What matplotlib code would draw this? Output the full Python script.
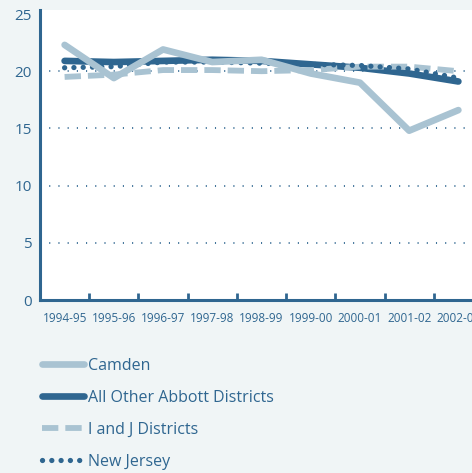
import matplotlib
matplotlib.use("Agg")
import matplotlib.pyplot as plt
import numpy as np

years = ["1994-95", "1995-96", "1996-97", "1997-98", "1998-99",
         "1999-00", "2000-01", "2001-02", "2002-03"]
camden = [22.3, 19.4, 21.9, 20.8, 21.0, 19.8, 19.0, 14.8, 16.6]
abbott = [20.9, 20.8, 20.9, 21.0, 20.9, 20.6, 20.3, 19.8, 19.1]
ij = [19.5, 19.7, 20.1, 20.1, 20.0, 20.1, 20.4, 20.4, 20.0]
nj = [20.3, 20.4, 20.8, 20.8, 20.7, 20.6, 20.5, 20.2, 19.4]
yticks = [0, 5, 10, 15, 20, 25]

DARK = "#2f6690"
LIGHT = "#a9c3d2"
BG = "#f0f5f6"

plt.rcParams['font.family'] = ['Open Sans', 'DejaVu Sans']

fig = plt.figure(figsize=(4.72, 4.73), dpi=100, facecolor=BG)
ax = fig.add_axes([40/472, 1-300/473, 443/472, 290/473])
ax.set_facecolor("white")

x = np.arange(len(years)) + 0.5
l1, = ax.plot(x, camden, color=LIGHT, lw=4.8, solid_capstyle='round', label="Camden", zorder=3)
l2, = ax.plot(x, abbott, color=DARK, lw=4.8, solid_capstyle='round', label="All Other Abbott Districts", zorder=2)
l3, = ax.plot(x, ij, color=LIGHT, lw=4.2, linestyle=(0, (2.8, 1.2)), dash_capstyle='butt', label="I and J Districts", zorder=2)
l4, = ax.plot(x, nj, color=DARK, lw=3.8, linestyle=(0, (0.01, 1.75)), dash_capstyle='round', label="New Jersey", zorder=2)

ax.set_xlim(0, len(years))
ax.set_ylim(0, 25.35)
for yv in yticks[1:-1]:
    ax.axhline(yv, color=DARK, lw=1.3, linestyle=(0, (0.6, 4.5)), zorder=1)

ax.set_yticks(yticks)
ax.set_yticklabels([str(v) for v in yticks], fontsize=11, color=DARK)
ax.tick_params(axis='y', length=0, pad=6)
ax.set_xticks(np.arange(1, len(years)))
ax.set_xticklabels([])
ax.set_xticks(x, minor=True)
ax.set_xticklabels(years, minor=True, fontsize=8.5, color=DARK)
ax.tick_params(axis='x', which='major', direction='in', length=5, width=2, color=DARK)
ax.tick_params(axis='x', which='minor', length=0, pad=9)

for s in ['top', 'right']:
    ax.spines[s].set_visible(False)
for s in ['left', 'bottom']:
    ax.spines[s].set_color(DARK)
    ax.spines[s].set_linewidth(2.2)

leg = fig.legend(handles=[l1, l2, l3, l4], loc='upper left',
                 bbox_to_anchor=(42/472, 1-358/473), frameon=False,
                 fontsize=11.5, handlelength=2.6, handletextpad=0.3,
                 labelspacing=1.0, borderaxespad=0, borderpad=0)
for t in leg.get_texts():
    t.set_color(DARK)

fig.savefig("out.png", dpi=100, facecolor=BG)
